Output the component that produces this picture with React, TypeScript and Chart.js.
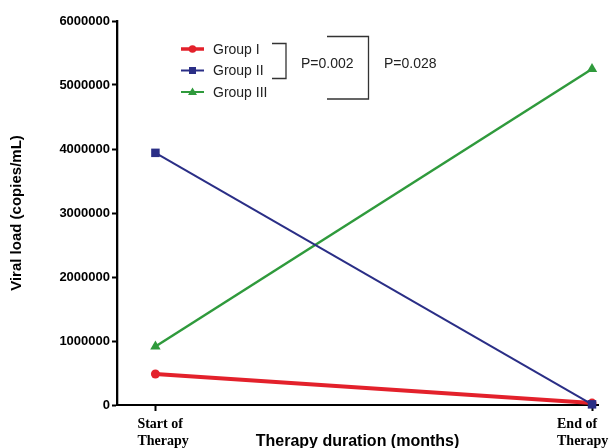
import React, { useEffect, useRef } from "react";
import { Chart, registerables } from "chart.js";

Chart.register(...registerables);

const timePoints = [0, 1];
const xTickLabels = [["Start of", "Therapy"], ["End of", "Therapy"]];
const seriesNames = ["Group I", "Group II", "Group III"];
const groupI = [484000, 30000];
const groupII = [3940000, 10000];
const groupIII = [915000, 5250000];
const yTicks = [0, 1000000, 2000000, 3000000, 4000000, 5000000, 6000000];
const pValues = ["P=0.002", "P=0.028"];

const colors = ["#e3212b", "#2a2e86", "#2f9a3c"];
const lineWidths = [4, 2, 2.5];
const pointStyles = ["circle", "rect", "triangle"];
const pointRadii = [4.5, 6, 6];
const drawOrder = [1, 0, 2];

const overlayPlugin = {
  id: "overlay",
  afterDraw(chart: any) {
    const ctx = chart.ctx;
    const xs = chart.scales.x;
    const ys = chart.scales.y;
    ctx.save();
    // x tick labels
    ctx.fillStyle = "#000";
    ctx.font = "bold 14px 'Liberation Serif', 'Times New Roman', serif";
    ctx.textAlign = "left";
    ctx.textBaseline = "middle";
    const leftOffsets = [-18, -35];
    timePoints.forEach((v, i) => {
      const px = xs.getPixelForValue(v);
      xTickLabels[i].forEach((line, j) => {
        ctx.fillText(line, px + leftOffsets[i], ys.bottom + 19 + j * 17);
      });
    });
    // legend
    const lx0 = 181;
    const lx1 = 204;
    const ly = [49, 70.5, 92];
    seriesNames.forEach((name, i) => {
      ctx.strokeStyle = colors[i];
      ctx.fillStyle = colors[i];
      ctx.lineWidth = lineWidths[i] === 4 ? 3.5 : 2;
      ctx.beginPath();
      ctx.moveTo(lx0, ly[i]);
      ctx.lineTo(lx1, ly[i]);
      ctx.stroke();
      const cx = (lx0 + lx1) / 2;
      ctx.beginPath();
      if (pointStyles[i] === "circle") {
        ctx.arc(cx, ly[i], 3.8, 0, Math.PI * 2);
        ctx.fill();
      } else if (pointStyles[i] === "rect") {
        ctx.fillRect(cx - 3.5, ly[i] - 3.5, 7, 7);
      } else {
        ctx.moveTo(cx, ly[i] - 4.5);
        ctx.lineTo(cx + 4.5, ly[i] + 3);
        ctx.lineTo(cx - 4.5, ly[i] + 3);
        ctx.closePath();
        ctx.fill();
      }
      ctx.fillStyle = "#222";
      ctx.font = "14px 'Liberation Sans', Arial, sans-serif";
      ctx.textAlign = "left";
      ctx.textBaseline = "middle";
      ctx.fillText(name, 213, ly[i] + 1);
    });
    // brackets
    ctx.strokeStyle = "#333";
    ctx.lineWidth = 1.3;
    ctx.beginPath();
    ctx.moveTo(272, 43.5);
    ctx.lineTo(286, 43.5);
    ctx.lineTo(286, 78.5);
    ctx.lineTo(272, 78.5);
    ctx.stroke();
    ctx.beginPath();
    ctx.moveTo(327, 36.5);
    ctx.lineTo(368.5, 36.5);
    ctx.lineTo(368.5, 99);
    ctx.lineTo(327, 99);
    ctx.stroke();
    ctx.fillStyle = "#222";
    ctx.font = "14px 'Liberation Sans', Arial, sans-serif";
    ctx.fillText(pValues[0], 301, 64);
    ctx.fillText(pValues[1], 384, 64);
    ctx.restore();
  },
};

export default function App() {
  const ref = useRef<HTMLCanvasElement>(null);
  useEffect(() => {
    document.body.style.margin = "0";
    const makeDs = (label: string, values: number[], i: number) => ({
      label,
      data: values.map((v, k) => ({ x: timePoints[k], y: v })),
      borderColor: colors[i],
      backgroundColor: colors[i],
      borderWidth: lineWidths[i],
      pointStyle: pointStyles[i],
      pointRadius: pointRadii[i],
      pointBorderWidth: 0,
      clip: false as any,
      tension: 0,
      order: drawOrder[i],
    });
    const chart = new Chart(ref.current!, {
      type: "line",
      data: {
        datasets: [
          makeDs(seriesNames[0], groupI, 0),
          makeDs(seriesNames[1], groupII, 1),
          makeDs(seriesNames[2], groupIII, 2),
        ],
      },
      options: {
        responsive: false,
        animation: false,
        layout: { padding: { top: 21, right: 13, left: 0, bottom: 0 } },
        plugins: { legend: { display: false }, tooltip: { enabled: false } },
        scales: {
          x: {
            type: "linear",
            min: -0.088,
            max: 1.0137,
            afterBuildTicks: (s: any) => {
              s.ticks = timePoints.map((v) => ({ value: v }));
            },
            afterFit: (s: any) => {
              s.height = 43;
            },
            ticks: { display: false },
            grid: {
              display: true,
              drawOnChartArea: false,
              drawTicks: true,
              tickLength: 6,
              tickWidth: 2,
              tickColor: "#000",
            },
            border: { display: true, color: "#000", width: 2 },
            title: {
              display: true,
              text: "Therapy duration (months)",
              color: "#000",
              font: { family: "'Liberation Sans', Arial, sans-serif", size: 16, weight: "bold" },
              padding: { top: -3, bottom: -3 },
            },
          },
          y: {
            type: "linear",
            min: 0,
            max: 6000000,
            afterBuildTicks: (s: any) => {
              s.ticks = yTicks.map((v) => ({ value: v }));
            },
            afterFit: (s: any) => {
              s.width = 117;
            },
            ticks: {
              color: "#000",
              padding: 2,
              font: { family: "'Liberation Sans', Arial, sans-serif", size: 13, weight: "bold" },
              callback: (v: any) => String(v),
            },
            grid: {
              display: true,
              drawOnChartArea: false,
              drawTicks: true,
              tickLength: 5,
              tickWidth: 2,
              tickColor: "#000",
            },
            border: { display: true, color: "#000", width: 2.3 },
            title: {
              display: true,
              text: "Viral load (copies/mL)",
              color: "#000",
              font: { family: "'Liberation Sans', Arial, sans-serif", size: 15, weight: "bold" },
              padding: { top: 8, bottom: 0 },
            },
          },
        },
      },
      plugins: [overlayPlugin],
    });
    return () => chart.destroy();
  }, []);
  return (
    <div style={{ width: 611, height: 448, background: "#fff" }}>
      <canvas ref={ref} width={611} height={448} />
    </div>
  );
}
